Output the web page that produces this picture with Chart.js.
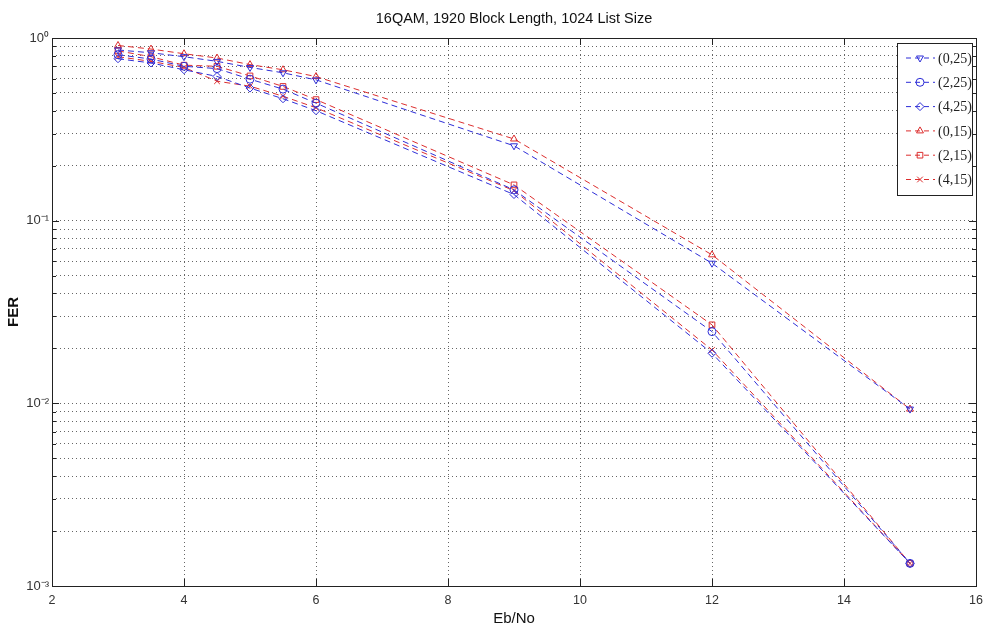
<!DOCTYPE html>
<html>
<head>
<meta charset="utf-8">
<script src="https://cdn.jsdelivr.net/npm/chart.js@4"></script>
<style>
  html, body { margin: 0; padding: 0; background: #fff; }
  #wrap { width: 984px; height: 630px; }
</style>
</head>
<body>
<div id="wrap"><canvas id="ferChart" width="984" height="630"></canvas></div>
<script>
// Eb/No points (x axis)
const ebno = [3, 3.5, 4, 4.5, 5, 5.5, 6, 9, 12, 15];

// FER per configuration
const fer_0_25 = [0.86, 0.83, 0.79, 0.745, 0.69, 0.645, 0.59, 0.257, 0.0585, 0.0093];
const fer_2_25 = [0.81, 0.767, 0.70, 0.68, 0.595, 0.525, 0.44, 0.1475, 0.0247, 0.00133];
const fer_4_25 = [0.77, 0.73, 0.67, 0.616, 0.532, 0.465, 0.40, 0.139, 0.0188, 0.00133];
const fer_0_15 = [0.91, 0.87, 0.82, 0.777, 0.715, 0.67, 0.615, 0.28, 0.065, 0.0093];
const fer_2_15 = [0.85, 0.79, 0.71, 0.70, 0.62, 0.543, 0.46, 0.157, 0.0269, 0.00133];
const fer_4_15 = [0.79, 0.745, 0.69, 0.58, 0.545, 0.48, 0.415, 0.146, 0.0196, 0.00133];

const seriesLabels = ['(0,25)', '(2,25)', '(4,25)', '(0,15)', '(2,15)', '(4,15)'];

// axis ticks
const xTicks = [2, 4, 6, 8, 10, 12, 14, 16];
const yDecades = [1, 0.1, 0.01, 0.001];
const yDecadeLabels = ['10\u2070', '10\u207B\u00B9', '10\u207B\u00B2', '10\u207B\u00B3'];

const BLUE = 'rgb(45, 45, 215)';
const RED = 'rgb(220, 45, 45)';
const DASH = [6, 4];

// minor + major gridline values on the log axis
const yGrid = [];
for (let d = 0.001; d < 1; d *= 10) {
    for (let k = 1; k <= 9; k++) yGrid.push(+(k * d).toPrecision(3));
}
yGrid.push(1);

function series(label, values, color, style, rotation) {
    return {
        label: label,
        data: ebno.map((x, i) => ({ x: x, y: values[i] })),
        borderColor: color,
        borderWidth: 1,
        borderDash: DASH,
        pointStyle: style,
        pointRotation: rotation || 0,
        pointRadius: 4,
        pointBorderColor: color,
        pointBackgroundColor: 'rgba(0,0,0,0)',
        pointBorderWidth: 1,
        fill: false,
        tension: 0
    };
}

const datasets = [
    series(seriesLabels[0], fer_0_25, BLUE, 'triangle', 180),
    series(seriesLabels[1], fer_2_25, BLUE, 'circle'),
    series(seriesLabels[2], fer_4_25, BLUE, 'rectRot'),
    series(seriesLabels[3], fer_0_15, RED, 'triangle'),
    series(seriesLabels[4], fer_2_15, RED, 'rect'),
    series(seriesLabels[5], fer_4_15, RED, 'crossRot')
];

// box, inward ticks and an in-plot legend, matlab style
const matlabAxes = {
    id: 'matlabAxes',
    afterDatasetsDraw(chart) {
        const ctx = chart.ctx;
        const a = chart.chartArea;
        const xs = chart.scales.x, ys = chart.scales.y;
        ctx.save();
        ctx.strokeStyle = '#222';
        ctx.lineWidth = 1;
        ctx.setLineDash([]);
        ctx.beginPath();
        xTicks.forEach(v => {
            const px = Math.round(xs.getPixelForValue(v)) + 0.5;
            ctx.moveTo(px, a.bottom); ctx.lineTo(px, a.bottom - 7);
            ctx.moveTo(px, a.top); ctx.lineTo(px, a.top + 7);
        });
        yGrid.forEach(v => {
            const py = Math.round(ys.getPixelForValue(v)) + 0.5;
            const len = yDecades.includes(v) ? 7 : 4;
            ctx.moveTo(a.left, py); ctx.lineTo(a.left + len, py);
            ctx.moveTo(a.right, py); ctx.lineTo(a.right - len, py);
        });
        ctx.stroke();
        ctx.strokeRect(Math.round(a.left) + 0.5, Math.round(a.top) + 0.5,
            Math.round(a.right - a.left), Math.round(a.bottom - a.top));

        // legend
        const lw = 75, lh = 152, row = 24.3;
        const lx = Math.round(a.right) - 4 - lw, ly = Math.round(a.top) + 5;
        ctx.fillStyle = '#fff';
        ctx.fillRect(lx, ly, lw, lh);
        ctx.strokeRect(lx + 0.5, ly + 0.5, lw, lh);
        ctx.font = '14px "Liberation Serif", serif';
        ctx.textBaseline = 'middle';
        chart.data.datasets.forEach((ds, i) => {
            const y = ly + 15 + i * row;
            ctx.strokeStyle = ds.borderColor;
            ctx.setLineDash([5, 4]);
            ctx.beginPath();
            ctx.moveTo(lx + 9, y); ctx.lineTo(lx + 38, y);
            ctx.stroke();
            ctx.setLineDash([]);
            ctx.fillStyle = 'rgba(0,0,0,0)';
            Chart.helpers.drawPoint(ctx, {
                pointStyle: ds.pointStyle, rotation: ds.pointRotation,
                radius: 4, borderWidth: 1
            }, lx + 23, y);
            ctx.fillStyle = '#222';
            ctx.fillText(ds.label, lx + 41, y + 1);
        });
        ctx.restore();
    }
};

new Chart(document.getElementById('ferChart'), {
    type: 'line',
    data: { datasets: datasets },
    plugins: [matlabAxes],
    options: {
        responsive: false,
        animation: false,
        layout: { padding: { left: 0, right: 0, top: 0, bottom: 0 } },
        plugins: {
            legend: { display: false },
            tooltip: { enabled: false },
            title: {
                display: true,
                fullSize: false,
                text: '16QAM, 1920 Block Length, 1024 List Size',
                color: '#111',
                font: { family: 'Liberation Sans', size: 14.5, weight: 'normal' },
                padding: { top: 10, bottom: 10.6 }
            }
        },
        scales: {
            x: {
                type: 'linear',
                min: 2,
                max: 16,
                afterBuildTicks: s => { s.ticks = xTicks.map(v => ({ value: v })); },
                afterFit: s => { s.height = 44; s.paddingRight = 8; s.paddingLeft = 0; },
                ticks: {
                    color: '#333',
                    padding: 7,
                    font: { family: 'Liberation Sans', size: 12.5 }
                },
                grid: { color: '#666', lineWidth: 1, drawTicks: false },
                border: { display: false, dash: [1, 3] },
                title: {
                    display: true,
                    text: 'Eb/No',
                    color: '#111',
                    font: { family: 'Liberation Sans', size: 15 },
                    padding: { top: 0, bottom: 2 }
                }
            },
            y: {
                type: 'logarithmic',
                min: 0.001,
                max: 1,
                afterBuildTicks: s => { s.ticks = yGrid.map(v => ({ value: v })); },
                afterFit: s => { s.width = 52; },
                ticks: {
                    autoSkip: false,
                    color: '#333',
                    padding: 3,
                    font: { family: 'Liberation Sans', size: 13 },
                    callback: v => {
                        const i = yDecades.indexOf(v);
                        return i >= 0 ? yDecadeLabels[i] : '';
                    }
                },
                grid: { color: '#666', lineWidth: 1, drawTicks: false },
                border: { display: false, dash: [1, 3] },
                title: {
                    display: true,
                    text: 'FER',
                    color: '#111',
                    font: { family: 'Liberation Sans', size: 15, weight: 'bold' },
                    padding: { top: 5, bottom: 0 }
                }
            }
        }
    }
});
</script>
</body>
</html>
